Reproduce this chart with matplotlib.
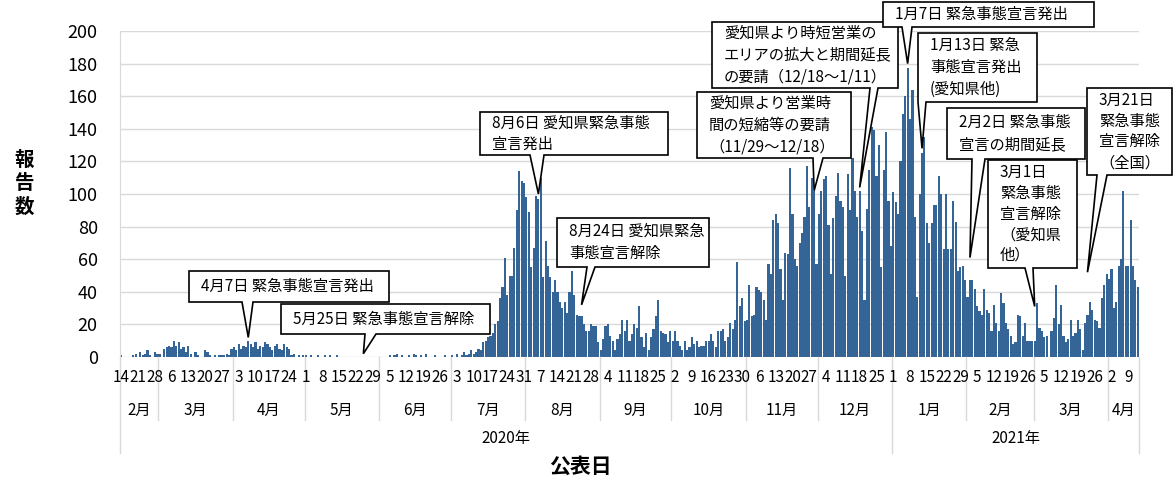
import numpy as np
import pandas as pd
import matplotlib
matplotlib.use("Agg")
import matplotlib.pyplot as plt
from matplotlib.patches import Polygon
from matplotlib.transforms import IdentityTransform, blended_transform_factory

plt.rcParams['font.family'] = ['Noto Sans CJK JP', 'DejaVu Sans']

# daily report counts, 2020-02-14 .. 2021-04-13
start_date = "2020-02-14"
feb20 = [1, 0, 0, 0, 0, 1, 2, 0, 3, 1, 2, 4, 1, 0, 3, 2]
mar20 = [2, 0, 5, 6, 7, 6, 10, 7, 9, 5, 6, 3, 7, 2, 0, 3, 1, 0, 0, 4, 3, 1, 0, 1, 0, 1, 1, 1, 2, 1, 5]
apr20 = [6, 4, 8, 5, 7, 6, 10, 8, 6, 9, 5, 7, 6, 9, 8, 6, 4, 7, 8, 5, 4, 8, 6, 5, 1, 2, 0, 1, 0, 1]
may20 = [1, 0, 1, 0, 0, 1, 0, 0, 1, 0, 1, 0, 0, 1, 0, 0, 0, 0, 0, 0, 0, 0, 0, 0, 0, 0, 0, 0, 0, 0, 0]
jun20 = [0, 0, 0, 0, 1, 0, 1, 2, 0, 1, 0, 0, 1, 0, 2, 1, 0, 1, 0, 2, 0, 0, 0, 1, 0, 0, 0, 1, 0, 0]
jul20 = [1, 0, 2, 0, 1, 3, 1, 2, 4, 2, 3, 5, 4, 9, 10, 12, 13, 15, 20, 22, 36, 43, 61, 38, 50, 50,
         67, 90, 114, 108, 107]
aug20 = [98, 89, 55, 67, 99, 97, 110, 49, 71, 56, 49, 40, 47, 40, 34, 30, 34, 27, 40, 53, 38, 26,
         25, 25, 20, 16, 16, 20, 19, 19, 9]
sep20 = [4, 11, 19, 20, 13, 10, 4, 11, 14, 23, 16, 23, 10, 14, 20, 18, 31, 12, 6, 15, 4, 12, 17,
         25, 35, 16, 15, 14, 9, 16]
oct20 = [10, 16, 10, 7, 4, 10, 4, 6, 12, 8, 10, 6, 7, 7, 10, 10, 14, 10, 6, 16, 16, 17, 10, 12,
         21, 17, 23, 58, 31, 36, 22]
nov20 = [23, 44, 25, 26, 43, 41, 40, 35, 23, 57, 51, 84, 88, 82, 54, 35, 64, 63, 116, 88, 60, 56,
         70, 76, 86, 117, 92, 110, 102, 57]
dec20 = [88, 102, 109, 111, 81, 51, 85, 99, 113, 96, 92, 50, 112, 90, 122, 102, 86, 102, 77, 35,
         91, 115, 141, 139, 111, 130, 55, 115, 138, 96, 68]
jan21 = [101, 95, 88, 120, 149, 160, 177, 146, 164, 86, 37, 100, 125, 135, 82, 70, 82, 93, 93,
         111, 100, 66, 100, 66, 66, 96, 83, 53, 55, 56, 47]
feb21 = [37, 47, 47, 42, 31, 28, 26, 42, 29, 27, 16, 32, 21, 16, 39, 33, 21, 17, 13, 8, 9, 26, 25,
         13, 21, 10, 10, 10]
mar21 = [10, 33, 18, 16, 12, 13, 0, 16, 24, 44, 20, 32, 13, 9, 11, 23, 13, 15, 23, 17, 4, 21, 26,
         34, 29, 23, 22, 18, 36, 44, 51]
apr21 = [48, 54, 30, 34, 56, 60, 102, 56, 56, 84, 56, 47, 43]

counts = (feb20 + mar20 + apr20 + may20 + jun20 + jul20 + aug20 + sep20 + oct20 + nov20
          + dec20 + jan21 + feb21 + mar21 + apr21)
dates = pd.date_range(start_date, periods=len(counts), freq="D")

# callouts: text, box (l, t, r, b) px, pointer base (x1, x2) px, date, value, line spacing
notes = [
    ("4月7日 緊急事態宣言発出", (189, 271, 389, 302), (242, 253), "2020-04-07", 12, 1.4),
    ("5月25日 緊急事態宣言解除", (281, 304, 490, 334), (365, 376), "2020-05-25", 2, 1.4),
    ("8月6日 愛知県緊急事態\n宣言発出", (480, 112, 668, 155), (530, 544), "2020-08-06", 100, 1.3),
    ("8月24日 愛知県緊急\n事態宣言解除", (557, 218, 709, 267), (587, 595), "2020-08-24", 32, 1.4),
    ("愛知県より営業時\n間の短縮等の要請\n（11/29～12/18）", (697, 92, 851, 158), (813, 823),
     "2020-11-29", 102, 1.4),
    ("愛知県より時短営業の\nエリアの拡大と期間延長\nの要請（12/18～1/11）", (712, 22, 898, 88),
     (870, 878), "2020-12-18", 104, 1.4),
    ("1月7日 緊急事態宣言発出", (883, 2, 1094, 27), (902, 912), "2021-01-07", 180, 1.4),
    ("1月13日 緊急\n事態宣言発出\n(愛知県他)", (918, 33, 1037, 102), (918, 926), "2021-01-13", 128, 1.4),
    ("2月2日 緊急事態\n宣言の期間延長", (947, 108, 1085, 159), (972, 985), "2021-02-02", 61, 1.4),
    ("3月1日\n緊急事態\n宣言解除\n（愛知県\n他）", (988, 160, 1077, 268), (1025, 1033),
     "2021-03-01", 31, 1.28),
    ("3月21日\n緊急事態\n宣言解除\n（全国）", (1087, 88, 1172, 175), (1097, 1107), "2021-03-23", 52, 1.3),
]

BAR = "#356497"
GRID = "#d9d9d9"
W, H = 1176, 478

fig = plt.figure(figsize=(W / 100, H / 100), dpi=100)
ax = fig.add_axes([120 / W, (H - 357) / H, (1139 - 120) / W, (357 - 31) / H])

x = np.arange(len(counts))
ax.bar(x, counts, width=0.9, color=BAR, zorder=2)
ax.set_xlim(-0.5, len(counts) - 0.5)
ax.set_ylim(0, 200)
ax.set_yticks(range(0, 201, 20))
ax.yaxis.grid(True, color=GRID, lw=1)
ax.set_axisbelow(True)
for s in ["top", "right", "bottom"]:
    ax.spines[s].set_visible(False)
ax.spines["left"].set_color(GRID)
ax.tick_params(axis="y", length=0, pad=16, labelsize=13)
ax.set_xticks([])

# multi level category axis
tr = blended_transform_factory(ax.transData, ax.transAxes)
def fy(py):
    return -(py - 357) / (357 - 31)

for i in range(0, len(dates), 7):
    ax.text(i, fy(378), str(dates[i].day), transform=tr, ha="center", va="center", fontsize=11)

s = pd.Series(x, index=dates)
for (yr, mo), g in s.groupby([dates.year, dates.month]):
    ax.text((g.min() + g.max()) / 2, fy(410), f"{mo}月", transform=tr, ha="center",
            va="center", fontsize=11)
    bottom = 453 if mo == 1 or g.min() == 0 else 420
    ax.plot([g.min() - 0.5] * 2, [fy(357), fy(bottom)], transform=tr, color=GRID, lw=1,
            clip_on=False)
ax.plot([len(counts) - 0.5] * 2, [fy(357), fy(453)], transform=tr, color=GRID, lw=1,
        clip_on=False)
for yr, g in s.groupby(dates.year):
    ax.text((g.min() + g.max()) / 2, fy(438), f"{yr}年", transform=tr, ha="center",
            va="center", fontsize=11)

fig.text(580, H - 466, "公表日", transform=IdentityTransform(), ha="center", va="center",
         fontsize=15, fontweight="bold")
fig.text(24, H - 184, "報\n告\n数", transform=IdentityTransform(), ha="center", va="center",
         fontsize=14, fontweight="bold", linespacing=1.3)

# callout boxes
for text, (l, t, r, b), (b1, b2), d, v, ls in notes:
    idx = dates.get_loc(pd.Timestamp(d))
    tx, ty = ax.transData.transform((idx, v))
    verts = [(l, H - t), (r, H - t), (r, H - b), (b2, H - b), (tx, ty), (b1, H - b), (l, H - b)]
    fig.add_artist(Polygon(verts, closed=True, facecolor="white", edgecolor="black", lw=1.2,
                           transform=IdentityTransform(), zorder=5))
    fig.text(l + 12, H - (t + b) / 2, text, transform=IdentityTransform(), ha="left",
             va="center", fontsize=11, linespacing=ls, zorder=6)

fig.savefig("out.png", dpi=100)
